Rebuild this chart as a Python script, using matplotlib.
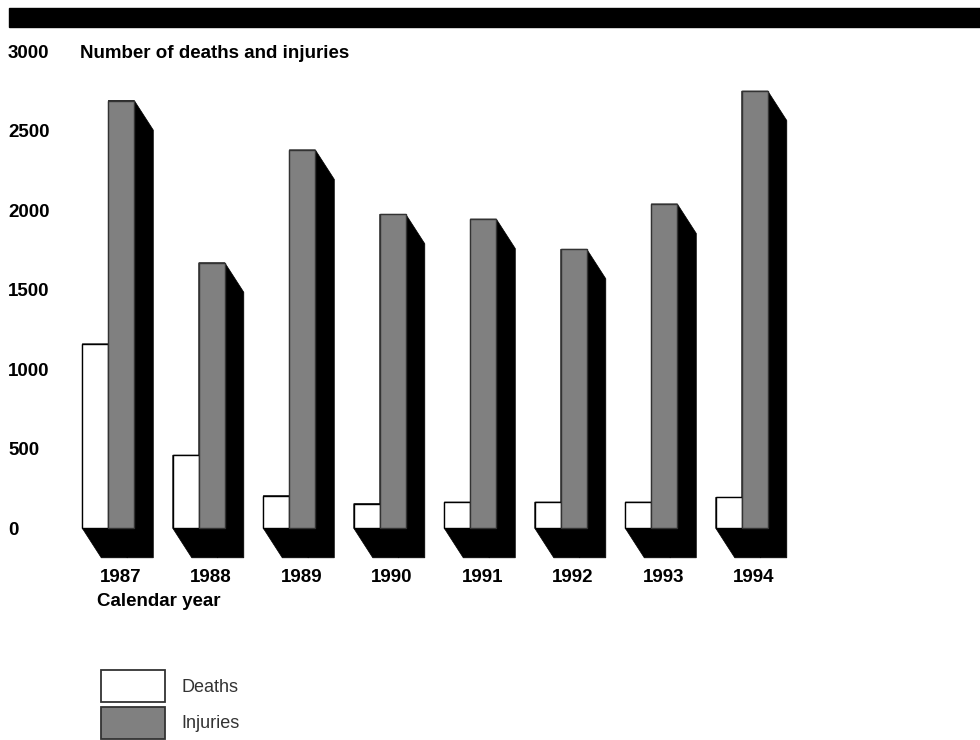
import matplotlib
matplotlib.use("Agg")
import matplotlib.pyplot as plt
from matplotlib.patches import Polygon, Rectangle
import numpy as np

plt.rcParams['font.family'] = ['Liberation Sans', 'DejaVu Sans']

years = ['1987', '1988', '1989', '1990', '1991', '1992', '1993', '1994']
deaths = [1160, 460, 205, 155, 165, 165, 165, 195]
injuries = [2690, 1670, 2380, 1975, 1945, 1755, 2040, 2750]
yticks = [0, 500, 1000, 1500, 2000, 2500, 3000]

W, H = 980, 740
fig = plt.figure(figsize=(W / 100, H / 100), dpi=100)

# axes box in pixels (left, top, right, bottom)
L, T, R, B = 60, 40, 900, 600
ax = fig.add_axes([L / W, 1 - B / H, (R - L) / W, (B - T) / H])

# pixel scales: 90.5 px per group, 500 units per 79.5 px, baseline at y=528.3
px_x = 90.5
u_per_px = 500 / 79.5
x0_px, base_px = 108.3, 528.3
ax.set_xlim((L - x0_px) / px_x, (R - x0_px) / px_x)
ax.set_ylim((base_px - B) * u_per_px, (base_px - T) * u_per_px)
for s in ax.spines.values():
    s.set_visible(False)

bw = 26 / px_x          # bar width
dx = 19 / px_x          # extrusion offset
dy = 29.5 * u_per_px

def shadow(x0, x1, h):
    pts = [(x0, h), (x1, h), (x1 + dx, h - dy), (x1 + dx, -dy),
           (x0 + dx, -dy), (x0, 0)]
    return Polygon(pts, closed=True, facecolor='black', edgecolor='black',
                   lw=0.5, zorder=1)

idx = np.arange(len(years))
for i, d, inj in zip(idx, deaths, injuries):
    ax.add_patch(shadow(i - bw, i, d))
    ax.add_patch(shadow(i, i + bw, inj))
ax.bar(idx - bw, deaths, width=bw, align='edge', color='white',
       edgecolor='black', lw=1.0, zorder=2)
ax.bar(idx, injuries, width=bw, align='edge', color='#808080',
       edgecolor='#333333', lw=1.0, zorder=3)

fs = 13.5

# y tick labels, left aligned near the figure edge
ax.set_yticks(yticks)
ax.set_yticklabels([str(v) for v in yticks], fontsize=fs, fontweight='bold')
ax.tick_params(axis='y', length=0, pad=(L - 8) * 0.72)
for lbl in ax.get_yticklabels():
    lbl.set_ha('left')

# year labels under each group
ax.set_xticks([])
year_y = (base_px - 577) * u_per_px
for i, yr in zip(idx, years):
    ax.text(i + 12 / px_x, year_y, yr, fontsize=fs, fontweight='bold',
            ha='center', va='center')

# header band and titles
fig.add_artist(Rectangle((9 / W, 1 - 26.5 / H), 1 - 9 / W, 18.5 / H,
                         transform=fig.transFigure, color='black'))
fig.text(80 / W, 1 - 53 / H, 'Number of deaths and injuries', fontsize=fs,
         fontweight='bold', va='center', ha='left')
fig.text(97 / W, 1 - 601 / H, 'Calendar year', fontsize=fs,
         fontweight='bold', va='center', ha='left')

# legend
for top, fc, name in [(669.5, 'white', 'Deaths'), (706.5, '#808080', 'Injuries')]:
    fig.add_artist(Rectangle((100.5 / W, 1 - (top + 32) / H), 64.5 / W, 32 / H,
                             transform=fig.transFigure, facecolor=fc,
                             edgecolor='#333333', lw=1.3))
    fig.text(181 / W, 1 - (top + 17.5) / H, name, fontsize=13, color='#333333',
             va='center', ha='left')

fig.savefig('out.png', dpi=100, facecolor='white')
